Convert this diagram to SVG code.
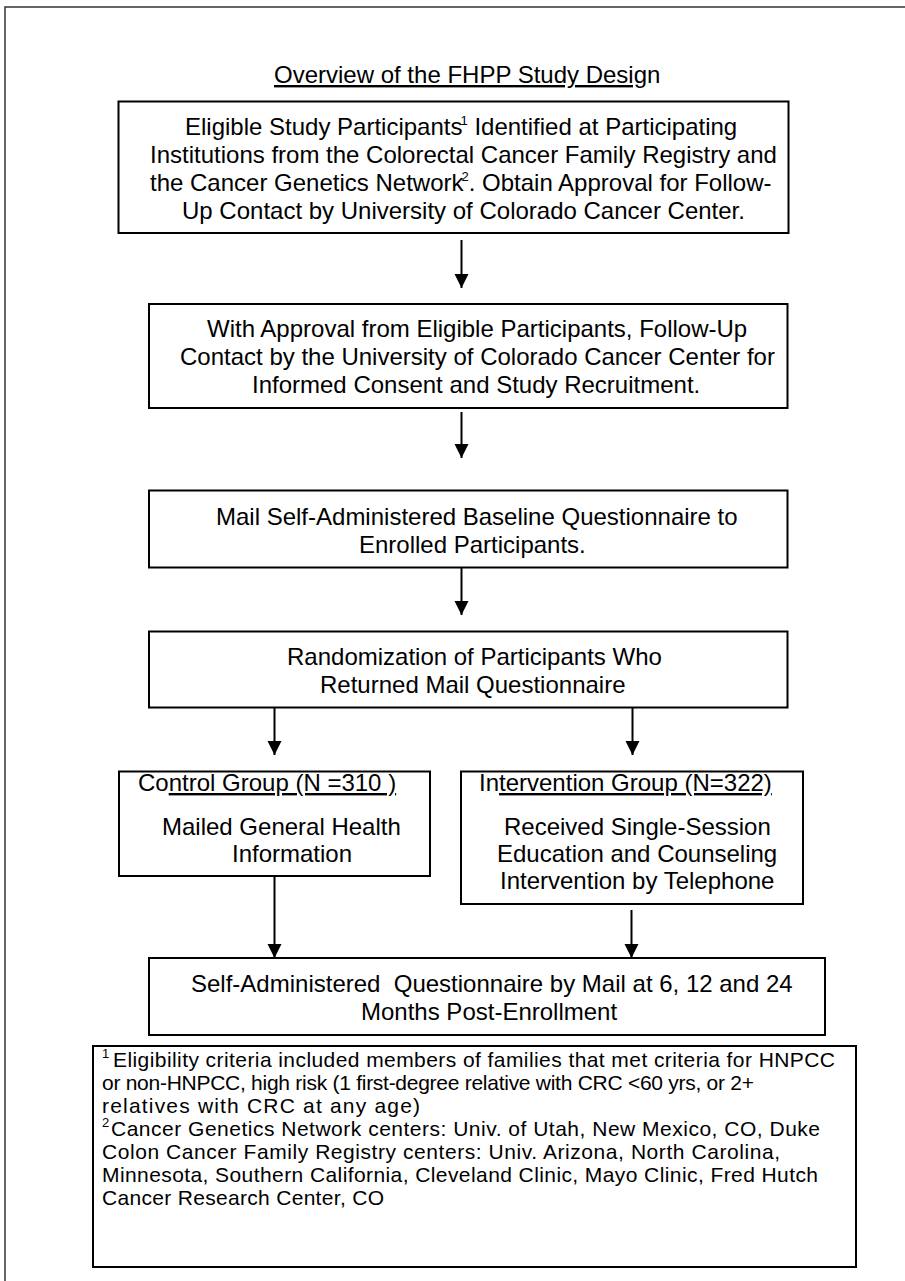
<svg xmlns="http://www.w3.org/2000/svg" width="905" height="1281" viewBox="0 0 905 1281">
<style>
  text { font-family: "Liberation Sans", Arial, sans-serif; fill: #000; }
  .t { font-size: 24px; }
  .fn { font-size: 21px; }
  .sup { font-size: 13px; }
  .box { fill: #fff; stroke: #000; stroke-width: 2; }
  .con { stroke: #000; stroke-width: 2; fill: none; }
  .u { text-decoration: underline; }
</style>
<defs>
  <marker id="ah" markerUnits="userSpaceOnUse" viewBox="0 0 14 15" refX="14" refY="7" markerWidth="14" markerHeight="15" orient="auto">
    <path d="M0,0 L14,7 L0,14 z" fill="#000"/>
  </marker>
</defs>
<rect width="905" height="1281" fill="#fff"/>
<path d="M5,1281 V7 H905" fill="none" stroke="#333" stroke-width="1.5"/>

<text id="title" class="t" x="274" y="83"><tspan class="u">Overview of the FHPP Study Desig</tspan>n</text>

<g id="connectors">
  <line class="con" x1="461.5" y1="240" x2="461.5" y2="288" marker-end="url(#ah)"/>
  <line class="con" x1="461.5" y1="412" x2="461.5" y2="458" marker-end="url(#ah)"/>
  <line class="con" x1="461.5" y1="567" x2="461.5" y2="615" marker-end="url(#ah)"/>
  <line class="con" x1="274.5" y1="708" x2="274.5" y2="755" marker-end="url(#ah)"/>
  <line class="con" x1="632.5" y1="708" x2="632.5" y2="755" marker-end="url(#ah)"/>
  <line class="con" x1="274.5" y1="876" x2="274.5" y2="958" marker-end="url(#ah)"/>
  <line class="con" x1="631.5" y1="910" x2="631.5" y2="958" marker-end="url(#ah)"/>
</g>

<g id="n1">
  <rect class="box" x="118.5" y="101.5" width="670" height="131.5"/>
  <text class="t" x="185" y="135">Eligible Study Participants<tspan class="sup" dx="-2" dy="-10">1</tspan><tspan dy="10"> Identified at Participating</tspan></text>
  <text class="t" x="150" y="163">Institutions from the Colorectal Cancer Family Registry and</text>
  <text class="t" x="150" y="191">the Cancer Genetics Network<tspan class="sup" dx="-2" dy="-10">2</tspan><tspan dy="10">. Obtain Approval for Follow-</tspan></text>
  <text class="t" x="182" y="219">Up Contact by University of Colorado Cancer Center.</text>
</g>

<g id="n2">
  <rect class="box" x="149" y="304" width="638.5" height="104"/>
  <text class="t" x="207" y="337">With Approval from Eligible Participants, Follow-Up</text>
  <text class="t" x="180" y="365">Contact by the University of Colorado Cancer Center for</text>
  <text class="t" x="252" y="393">Informed Consent and Study Recruitment.</text>
</g>

<g id="n3">
  <rect class="box" x="149" y="490.5" width="638.5" height="77"/>
  <text class="t" x="216" y="525">Mail Self-Administered Baseline Questionnaire to</text>
  <text class="t" x="359" y="553">Enrolled Participants.</text>
</g>

<g id="n4">
  <rect class="box" x="149" y="631.5" width="638.5" height="76"/>
  <text class="t" x="287" y="665">Randomization of Participants Who</text>
  <text class="t" x="320" y="693">Returned Mail Questionnaire</text>
</g>

<g id="n5">
  <rect class="box" x="119" y="771.5" width="311" height="104.5"/>
  <text class="t" x="138" y="791">Co<tspan class="u">ntrol Group (N =310 )</tspan></text>
  <text class="t" x="162" y="835">Mailed General Health</text>
  <text class="t" x="232" y="862">Information</text>
</g>

<g id="n6">
  <rect class="box" x="461" y="771.5" width="342" height="132.5"/>
  <text class="t" x="479" y="791">In<tspan class="u">tervention Group (N=322)</tspan></text>
  <text class="t" x="504" y="835">Received Single-Session</text>
  <text class="t" x="497" y="862">Education and Counseling</text>
  <text class="t" x="500" y="889">Intervention by Telephone</text>
</g>

<g id="n7">
  <rect class="box" x="149" y="958" width="676" height="77"/>
  <text class="t" x="191" y="992" xml:space="preserve">Self-Administered  Questionnaire by Mail at 6, 12 and 24</text>
  <text class="t" x="361" y="1020">Months Post-Enrollment</text>
</g>

<g id="n8">
  <rect class="box" x="93" y="1046" width="763" height="221" stroke-width="1.5"/>
  <text class="fn" x="102" y="1067"><tspan class="sup" dy="-9">1</tspan><tspan x="113" dy="9" textLength="722">Eligibility criteria included members of families that met criteria for HNPCC</tspan></text>
  <text class="fn" x="102" y="1090" textLength="652">or non-HNPCC, high risk (1 first-degree relative with CRC &lt;60 yrs, or 2+</text>
  <text class="fn" x="102" y="1113" textLength="318">relatives with CRC at any age)</text>
  <text class="fn" x="102" y="1136"><tspan class="sup" dy="-9">2</tspan><tspan x="111" dy="9" textLength="709">Cancer Genetics Network centers: Univ. of Utah, New Mexico, CO, Duke</tspan></text>
  <text class="fn" x="102" y="1159" textLength="678">Colon Cancer Family Registry centers: Univ. Arizona, North Carolina,</text>
  <text class="fn" x="102" y="1182" textLength="716">Minnesota, Southern California, Cleveland Clinic, Mayo Clinic, Fred Hutch</text>
  <text class="fn" x="102" y="1205" textLength="282">Cancer Research Center, CO</text>
</g>
</svg>
